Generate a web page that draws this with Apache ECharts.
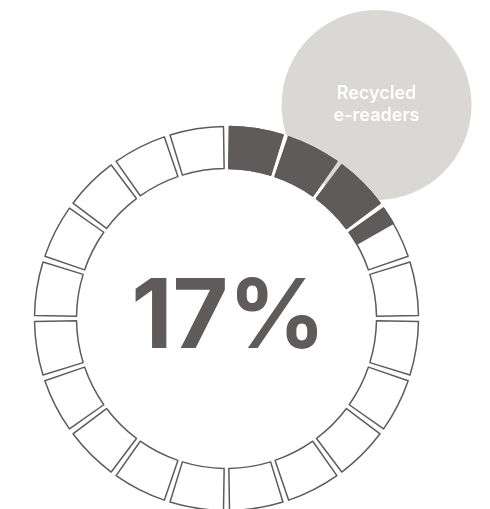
<!DOCTYPE html>
<html>
<head>
<meta charset="utf-8">
<script src="https://cdn.jsdelivr.net/npm/echarts@6/dist/echarts.min.js"></script>
<style>
html,body{margin:0;padding:0;background:#fff;}
#chart{width:490px;height:509px;}
</style>
</head>
<body>
<div id="chart"></div>
<script>
// ---- data ----
const percentValue = 17;          // share of recycled e-readers (%)
const segmentCount = 20;          // number of ring segments
const badgeLabel = ['Recycled', 'e-readers'];

// ---- derived series data ----
const ringData = [];
for (let i = 0; i < segmentCount; i++) ringData.push({ value: 1, name: 'seg' + i });

const filledSegments = percentValue / 100 * segmentCount;   // 3.4
const fullCount = Math.floor(filledSegments);
const partial = +(filledSegments - fullCount).toFixed(4);
const fillData = [];
for (let i = 0; i < fullCount; i++) fillData.push({ value: 1, name: 'fill' + i });
if (partial > 0) fillData.push({ value: partial, name: 'fillPartial' });
fillData.push({ value: segmentCount - filledSegments, name: 'rest',
  itemStyle: { color: 'transparent', borderColor: 'transparent' } });

const DARK = '#5f5b5a';
const CENTER = [226.5, 318.5];
const RADIUS = [150, 192];

const chart = echarts.init(document.getElementById('chart'), null, { renderer: 'canvas' });
chart.setOption({
  animation: false,
  backgroundColor: '#ffffff',
  series: [
    {
      type: 'pie',
      name: 'badge',
      z: 1,
      silent: true,
      center: [376.5, 105],
      radius: [0, 95],
      data: [{ value: 1, name: badgeLabel.join('\n') }],
      itemStyle: { color: '#d9d8d4' },
      label: {
        show: true,
        position: 'center',
        formatter: '{b}',
        color: '#ffffff',
        fontFamily: 'Inter, "Open Sans", sans-serif',
        fontWeight: 600,
        fontSize: 18,
        lineHeight: 22,
        padding: [3, 0, 0, 0]
      },
      labelLine: { show: false },
      emphasis: { disabled: true }
    },
    {
      type: 'pie',
      name: 'ring',
      z: 2,
      silent: true,
      center: CENTER,
      radius: RADIUS,
      startAngle: 90,
      clockwise: true,
      padAngle: 1.8,
      data: ringData,
      itemStyle: { color: '#ffffff', borderColor: DARK, borderWidth: 1.5 },
      label: { show: false },
      labelLine: { show: false },
      emphasis: { disabled: true }
    },
    {
      type: 'pie',
      name: 'fill',
      z: 3,
      silent: true,
      center: CENTER,
      radius: RADIUS,
      startAngle: 90,
      clockwise: true,
      padAngle: 1.8,
      data: fillData,
      itemStyle: { color: DARK, borderColor: DARK, borderWidth: 1.5 },
      label: { show: false },
      labelLine: { show: false },
      emphasis: { disabled: true }
    }
  ],
  graphic: [
    {
      type: 'text',
      z: 10,
      x: CENTER[0] + 2,
      y: CENTER[1] + 1,
      style: {
        text: percentValue + '%',
        fill: DARK,
        font: 'bold 96px Inter, "Open Sans", sans-serif',
        textAlign: 'center',
        textVerticalAlign: 'middle'
      }
    }
  ]
});
</script>
</body>
</html>
